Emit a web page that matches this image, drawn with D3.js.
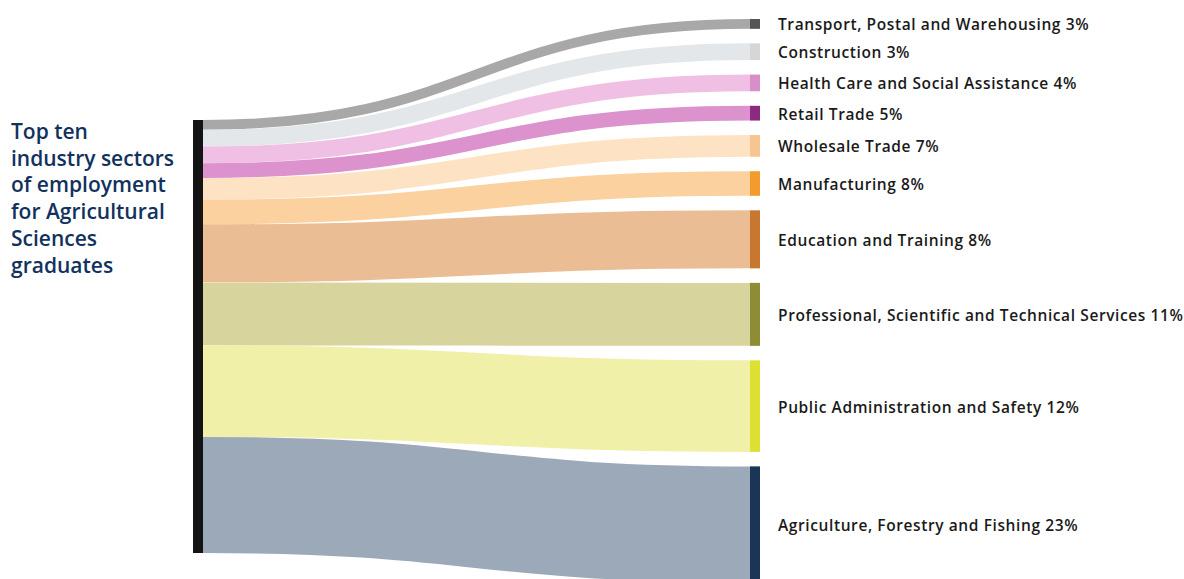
<!DOCTYPE html>
<html>
<head>
<meta charset="utf-8">
<script src="https://cdn.jsdelivr.net/npm/d3@7"></script>
<style>
  body { margin: 0; background: #fff; }
  svg { display: block; }
</style>
</head>
<body>
<div id="chart"></div>
<script>
// Sectors, top to bottom as in the picture
const sectors = [
  "Transport, Postal and Warehousing",
  "Construction",
  "Health Care and Social Assistance",
  "Retail Trade",
  "Wholesale Trade",
  "Manufacturing",
  "Education and Training",
  "Professional, Scientific and Technical Services",
  "Public Administration and Safety",
  "Agriculture, Forestry and Fishing"
];
// share of graduates (%) as printed on the labels
const shares = [3, 3, 4, 5, 7, 8, 8, 11, 12, 23];
// band thickness as drawn in the original (not proportional to the shares)
const bandWeights = [10, 17, 17, 15, 22, 25, 59, 64, 93, 118];

const linkColors = ["#a8a8a8", "#e4e7e9", "#f0c0e4", "#dc92cd", "#fde3c4", "#fbd19f",
                    "#ebbd95", "#d8d49e", "#f1f0a9", "#9ba9b9"];
const nodeColors = ["#555555", "#d6d6d6", "#d88ec6", "#8b2a80", "#f7c58f", "#f39b2c",
                    "#c8772e", "#8e8c35", "#dde033", "#1b3557"];

const titleLines = ["Top ten", "industry sectors", "of employment", "for Agricultural",
                    "Sciences", "graduates"];

const width = 1184, height = 579;

const svg = d3.select("#chart").append("svg")
  .attr("width", width)
  .attr("height", height);

const srcX = 193, nodeW = 10, tgtX = 750;
const srcTop = 120, srcH = 433, gap = 14.5, tgtTop = 19;

// thickness scale
const total = d3.sum(bandWeights);
const k = d3.scaleLinear().domain([0, total]).range([0, srcH]);

// stack the bands on the source side, targets get padding between them
const srcOffsets = [0, ...d3.cumsum(bandWeights)];
const nodes = sectors.map((s, i) => {
  const w = k(bandWeights[i]);
  const y0 = srcTop + k(srcOffsets[i]);
  const t0 = tgtTop + k(srcOffsets[i]) + i * gap;
  return {name: s, share: shares[i], w: w, sy: y0 + w / 2, ty: t0 + w / 2, t0: t0, i: i};
});

const link = d3.linkHorizontal()
  .source(d => [srcX + nodeW, d.sy])
  .target(d => [tgtX, d.ty]);

// flows
svg.append("g")
  .attr("fill", "none")
  .selectAll("path")
  .data(nodes)
  .join("path")
  .attr("d", link)
  .attr("stroke", d => linkColors[d.i])
  .attr("stroke-width", d => d.w);

// source node
svg.append("rect")
  .attr("x", srcX)
  .attr("y", srcTop)
  .attr("width", nodeW)
  .attr("height", srcH)
  .attr("fill", "#141414");

// target nodes
svg.append("g")
  .selectAll("rect")
  .data(nodes)
  .join("rect")
  .attr("x", tgtX)
  .attr("y", d => d.t0)
  .attr("width", nodeW)
  .attr("height", d => d.w)
  .attr("fill", d => nodeColors[d.i]);

// labels
svg.append("g")
  .selectAll("text")
  .data(nodes)
  .join("text")
  .attr("x", 778)
  .attr("y", d => d.ty + 1)
  .attr("dy", "0.35em")
  .style("font-family", "'Open Sans', sans-serif")
  .style("font-weight", 600)
  .style("font-size", "15.5px")
  .style("letter-spacing", "0.6px")
  .attr("fill", "#1a1a1a")
  .text(d => d.name + " " + d.share + "%");

// title on the left
svg.append("text")
  .style("font-family", "'Open Sans', sans-serif")
  .style("font-weight", 600)
  .style("font-size", "21px")
  .attr("fill", "#12325e")
  .selectAll("tspan")
  .data(titleLines)
  .join("tspan")
  .attr("x", 11)
  .attr("y", (d, i) => 139 + i * 26.7)
  .text(d => d);
</script>
</body>
</html>
